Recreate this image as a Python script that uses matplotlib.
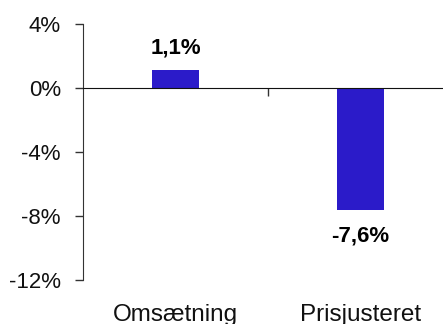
import matplotlib.pyplot as plt
from matplotlib.ticker import FuncFormatter
import matplotlib.transforms as mtransforms

categories = ["Omsætning", "Prisjusteret"]
values = [1.1, -7.6]
yticks = [4, 0, -4, -8, -12]

bar_color = "#2B1BC9"
plt.rcParams["font.family"] = ["Liberation Sans", "DejaVu Sans"]

fig = plt.figure(figsize=(4.43, 3.24), dpi=100)
ax = fig.add_axes([0.1874, 0.1358, 0.835, 0.7901])

x = list(range(len(categories)))
ax.bar(x, values, width=0.25, color=bar_color, zorder=2)

ax.set_xlim(-0.5, 1.5)
ax.set_ylim(-12, 4)

# y axis
ax.set_yticks(yticks)
ax.yaxis.set_major_formatter(FuncFormatter(lambda v, _: f"{v:.0f}%"))
ax.tick_params(axis="y", length=6, width=1, color="#333333", pad=10,
               labelsize=16, labelcolor="#111111")

# x axis sits on the zero line, ticks between categories
for s in ["top", "right"]:
    ax.spines[s].set_visible(False)
ax.spines["left"].set_color("#333333")
ax.spines["bottom"].set_position(("data", 0))
ax.spines["bottom"].set_color("#111111")
ax.set_xticks([0.5])
ax.set_xticklabels([""])
ax.tick_params(axis="x", length=6, width=1, color="#333333", direction="out")

# value labels
for xi, v in zip(x, values):
    label = f"{v:.1f}%".replace(".", ",")
    dy = 16 if v >= 0 else -19
    ax.annotate(label, (xi, v), xytext=(0, dy), textcoords="offset points",
                ha="center", va="center", fontsize=16, fontweight="bold")

# category labels along the bottom
trans = mtransforms.blended_transform_factory(ax.transData, fig.transFigure)
for xi, c in zip(x, categories):
    ax.text(xi, 0.008, c, transform=trans, ha="center", va="baseline",
            fontsize=17.5, color="#111111")

fig.savefig("out.png", dpi=100)
